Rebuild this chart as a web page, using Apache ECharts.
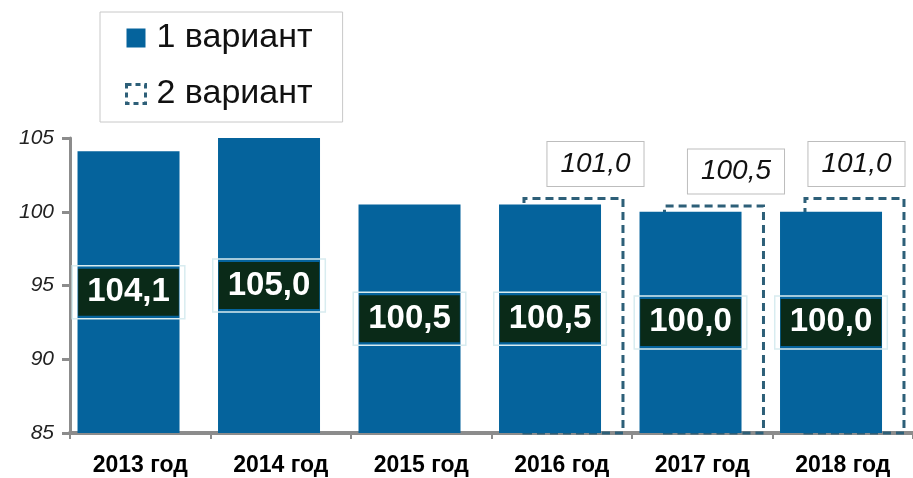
<!DOCTYPE html>
<html>
<head>
<meta charset="utf-8">
<script src="https://cdn.jsdelivr.net/npm/echarts@6/dist/echarts.min.js"></script>
<style>
    html, body { margin: 0; padding: 0; background: #fff; }
    #chart { width: 913px; height: 478px; }
</style>
</head>
<body>
<div id="chart"></div>
<script>
var categories = ['2013 год', '2014 год', '2015 год', '2016 год', '2017 год', '2018 год'];
var variant1 = [104.1, 105.0, 100.5, 100.5, 100.0, 100.0];
var variant2 = [null, null, null, 101.0, 100.5, 101.0];
var yTicks = [85, 90, 95, 100, 105];

var font = 'Liberation Sans, Arial, sans-serif';

function fmt(v) {
    return v.toFixed(1).replace('.', ',');
}

// второй вариант: подписи сдвинуты вправо, последняя упирается в край
var variant2Data = variant2.map(function (v, i) {
    if (v === null) return null;
    return {
        value: v,
        label: { offset: i === categories.length - 1 ? [2, 0] : [22, 0] }
    };
});

var myChart = echarts.init(document.getElementById('chart'));

var option = {
    animation: false,
    textStyle: { fontFamily: font },
    legend: {
        data: [
            { name: '1 вариант' },
            { name: '2 вариант', itemStyle: { borderType: [5, 4], borderWidth: 3, borderColor: '#2d5f78' } }
        ],
        orient: 'vertical',
        left: 100,
        top: 12,
        padding: [9, 30, 11, 25],
        itemGap: 22,
        itemWidth: 19,
        itemHeight: 19,
        icon: 'rect',
        backgroundColor: '#fff',
        borderColor: '#c8c8c8',
        borderWidth: 1,
        textStyle: { fontSize: 34, color: '#111', fontFamily: font, padding: [0, 0, 0, 6] }
    },
    grid: {
        left: 70,
        top: 138,
        bottom: 45,
        width: 849
    },
    xAxis: {
        type: 'category',
        data: categories,
        axisLine: { lineStyle: { color: '#8c8c8c', width: 4 } },
        axisTick: { show: true, length: 6, lineStyle: { color: '#8c8c8c', width: 2 } },
        axisLabel: {
            fontSize: 23,
            fontWeight: 'bold',
            color: '#000',
            margin: 21,
            fontFamily: font
        }
    },
    yAxis: {
        type: 'value',
        min: yTicks[0],
        max: yTicks[yTicks.length - 1],
        interval: 5,
        axisLine: { show: true, lineStyle: { color: '#8c8c8c', width: 3 } },
        axisTick: { show: true, length: 8, lineStyle: { color: '#8c8c8c', width: 3 } },
        splitLine: { show: false },
        axisLabel: {
            fontSize: 21,
            fontStyle: 'italic',
            color: '#222',
            margin: 16,
            fontFamily: font
        }
    },
    series: [
        {
            name: '1 вариант',
            type: 'bar',
            data: variant1,
            barWidth: 102,
            barGap: '-77%',
            z: 3,
            itemStyle: { color: '#05639c' },
            label: {
                show: true,
                position: 'inside',
                formatter: function (p) { return '{v|' + fmt(p.value) + '}'; },
                borderColor: '#d8ecf0',
                borderWidth: 1.5,
                padding: [3, 6],
                rich: {
                    v: {
                        fontSize: 33,
                        fontWeight: 'bold',
                        color: '#fff',
                        fontFamily: font,
                        backgroundColor: '#0a2a18',
                        padding: [7, 9]
                    }
                }
            }
        },
        {
            name: '2 вариант',
            type: 'bar',
            data: variant2Data,
            barWidth: 102,
            z: 2,
            itemStyle: {
                color: 'rgba(255,255,255,0)',
                borderColor: '#2d5f78',
                borderWidth: 3,
                borderType: [8, 5]
            },
            label: {
                show: true,
                position: 'top',
                distance: 11,
                formatter: function (p) { return fmt(p.value); },
                fontSize: 28,
                fontStyle: 'italic',
                color: '#111',
                fontFamily: font,
                backgroundColor: '#fff',
                borderColor: '#bdbdbd',
                borderWidth: 1,
                padding: [8, 13]
            }
        }
    ]
};

myChart.setOption(option);
</script>
</body>
</html>
